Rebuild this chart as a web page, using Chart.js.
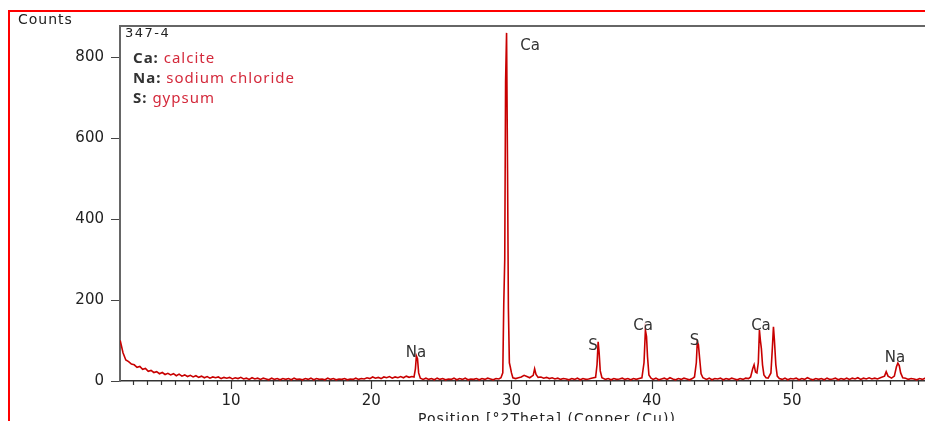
<!DOCTYPE html>
<html>
<head>
<meta charset="utf-8">
<script src="https://cdn.jsdelivr.net/npm/chart.js@4.4.1/dist/chart.umd.min.js"></script>
<style>
  html, body { margin: 0; padding: 0; background: #fff; overflow: hidden; }
  #frame { position: absolute; left: 8px; top: 10px; width: 2000px; height: 1000px; border: 2px solid #ff0000; box-sizing: border-box; }
  #xrd { position: absolute; left: 0; top: 0; }
</style>
</head>
<body>
<div id="frame"></div>
<canvas id="xrd" width="1000" height="440"></canvas>
<script>
// scan: background counts on a 0.2 deg step grid from 2.1 deg
var scanStart = 2.1;
var scanStep = 0.2;
var backgroundCounts = [
  100, 70, 52, 48, 42, 40, 34, 36, 29, 31,
  24, 26, 21, 23, 18, 21, 16, 19, 15, 18,
  13, 17, 12, 15, 11, 14, 10, 13, 9, 12,
  8, 11, 7, 10, 8, 10, 6, 9, 7, 9,
  5, 8, 6, 9, 5, 7, 4, 8, 5, 7,
  4, 7, 5, 3, 7, 4, 6, 3, 6, 4,
  6, 3, 7, 4, 5, 3, 6, 4, 7, 3,
  6, 4, 5, 3, 7, 4, 6, 3, 5, 4,
  6, 3, 5, 4, 7, 4, 6, 5, 8, 6,
  10, 7, 9, 6, 10, 8, 11, 7, 10, 8,
  11, 8, 12, 9, 11, 10, 10, 7, 4, 7,
  4, 6, 3, 7, 4, 6, 3, 5, 4, 7,
  3, 6, 4, 7, 3, 5, 4, 6, 3, 6,
  4, 7, 5, 3, 6, 5, 8, 8, 8, 8,
  8, 6, 8, 10, 14, 11, 8, 12, 14, 9,
  10, 7, 9, 6, 8, 5, 7, 4, 6, 5,
  3, 6, 4, 7, 3, 6, 4, 5, 7, 6,
  9, 9, 8, 4, 6, 3, 6, 4, 5, 7,
  4, 6, 3, 6, 4, 6, 8, 8, 8, 8,
  4, 7, 3, 5, 7, 4, 8, 5, 3, 6,
  4, 7, 5, 3, 6, 8, 8, 8, 8, 4,
  7, 3, 6, 5, 7, 3, 6, 4, 7, 5,
  3, 6, 4, 7, 6, 8, 8, 8, 8, 8,
  8, 7, 8, 8, 8, 6, 4, 7, 3, 6,
  5, 7, 3, 6, 4, 8, 5, 3, 6, 4,
  6, 3, 7, 4, 5, 7, 3, 6, 4, 7,
  4, 7, 5, 8, 4, 7, 5, 8, 5, 7,
  5, 8, 9, 12, 8, 7, 12, 8, 8, 8,
  7, 4, 6, 5, 3, 6, 4, 7, 5, 4,
  6, 3, 5, 7, 4, 6, 3, 5, 7, 4,
  6, 4, 5, 7, 5
];

// peak profiles, read point by point
var peakTheta = [
  23.05, 23.15, 23.22, 23.3, 23.38, 23.5,
  29.25, 29.38, 29.45, 29.52, 29.58, 29.65, 29.72, 29.78, 29.85, 29.92, 30.0, 30.1,
  31.55, 31.65, 31.75,
  36.0, 36.1, 36.18, 36.25, 36.33, 36.45,
  39.3, 39.45, 39.55, 39.63, 39.7, 39.8, 39.95,
  43.05, 43.18, 43.25, 43.33, 43.42, 43.52, 43.65,
  47.05, 47.2, 47.3, 47.4, 47.5, 47.6, 47.68, 47.75, 47.82, 47.9, 48.0, 48.15,
  48.5, 48.6, 48.68, 48.75, 48.85, 48.95, 49.1,
  56.6, 56.72, 56.85,
  57.3, 57.45, 57.55, 57.65, 57.75, 57.9
];
var peakCounts = [
  10, 30, 62, 55, 20, 7,
  8, 20, 190, 300, 740, 860, 520, 180, 45, 34, 20, 8,
  14, 30, 16,
  9, 40, 97, 70, 25, 8,
  8, 45, 126, 110, 60, 15, 7,
  10, 45, 97, 90, 55, 18, 8,
  10, 30, 40, 22, 20, 45, 126, 100, 80, 40, 15, 8,
  20, 80, 134, 100, 40, 12, 6,
  12, 23, 12,
  12, 35, 44, 38, 20, 8
];

// phase labels (text, 2theta, counts at label baseline)
var labelText = ['Na', 'Ca', 'S', 'Ca', 'S', 'Ca', 'Na'];
var labelTheta = [23.19, 31.32, 35.81, 39.38, 43.05, 47.79, 57.34];
var labelCounts = [59, 817, 76, 126, 89, 126, 47];

var phaseCodes = ['Ca:', 'Na:', 'S:'];
var phaseNames = ['calcite', 'sodium chloride', 'gypsum'];
var sampleName = '347-4';

var xTicks = [10, 20, 30, 40, 50];
var yTicks = [0, 200, 400, 600, 800];
var xTitle = 'Position [°2Theta] (Copper (Cu))';
var yTitle = 'Counts';

// merge background grid with peak points
var points = [];
for (var i = 0; i < backgroundCounts.length; i++) {
  var t = Math.round((scanStart + i * scanStep) * 100) / 100;
  var inPeak = peakTheta.some(function (p) { return Math.abs(p - t) < 0.12; });
  if (!inPeak) points.push({ x: t, y: backgroundCounts[i] });
}
for (var j = 0; j < peakTheta.length; j++) points.push({ x: peakTheta[j], y: peakCounts[j] });
points.sort(function (a, b) { return a.x - b.x; });

var decor = {
  id: 'decor',
  afterDraw: function (chart) {
    var c = chart.ctx, a = chart.chartArea;
    var xs = chart.scales.x, ys = chart.scales.y;
    c.save();
    // top frame
    c.strokeStyle = '#666';
    c.lineWidth = 2;
    c.beginPath();
    c.moveTo(a.left - 1, a.top);
    c.lineTo(a.right, a.top);
    c.stroke();
    // x ticks every degree, longer every ten
    c.strokeStyle = '#333';
    c.lineWidth = 1.2;
    for (var v = 3; v <= 62; v++) {
      var px = Math.round(xs.getPixelForValue(v)) + 0.5;
      c.beginPath();
      c.moveTo(px, a.bottom);
      c.lineTo(px, a.bottom + (v % 10 === 0 ? 8 : 4));
      c.stroke();
    }
    c.fillStyle = '#222';
    c.textBaseline = 'alphabetic';
    // x axis title
    c.font = '14px "DejaVu Sans"';
    c.letterSpacing = '1px';
    c.textAlign = 'center';
    c.fillText(xTitle, (a.left + a.right) / 2, a.bottom + 42);
    // counts label
    c.textAlign = 'left';
    c.fillText(yTitle, a.left - 102, a.top - 2);
    // sample name
    c.font = '13px "DejaVu Sans"';
    c.letterSpacing = '1.5px';
    c.fillText(sampleName, a.left + 5, a.top + 11);
    // phase legend
    c.letterSpacing = '1px';
    for (var k = 0; k < phaseCodes.length; k++) {
      var by = a.top + 37 + k * 20;
      c.font = 'bold 15px "Noto Sans"';
      c.fillStyle = '#333';
      c.fillText(phaseCodes[k], a.left + 13, by);
      var w = c.measureText(phaseCodes[k] + ' ').width;
      c.font = '15px "Noto Sans"';
      c.fillStyle = '#d42a3c';
      c.fillText(phaseNames[k], a.left + 13 + w, by);
    }
    // peak labels
    c.letterSpacing = '0px';
    c.font = '15px "DejaVu Sans"';
    c.fillStyle = '#333';
    c.textAlign = 'center';
    for (var m = 0; m < labelText.length; m++) {
      c.fillText(labelText[m], xs.getPixelForValue(labelTheta[m]), ys.getPixelForValue(labelCounts[m]));
    }
    c.restore();
  }
};

var ctx = document.getElementById('xrd').getContext('2d');
var xrdChart = new Chart(ctx, {
  type: 'line',
  data: {
    datasets: [{
      data: points,
      borderColor: '#c80000',
      borderWidth: 1.6,
      pointRadius: 0,
      tension: 0
    }]
  },
  options: {
    responsive: false,
    animation: false,
    layout: { padding: { top: 26, right: 26, left: 0, bottom: 0 } },
    plugins: { legend: { display: false }, tooltip: { enabled: false } },
    scales: {
      x: {
        type: 'linear',
        min: 2.086,
        max: 62.98,
        afterBuildTicks: function (s) { s.ticks = xTicks.map(function (v) { return { value: v }; }); },
        afterFit: function (s) { s.height = 59; },
        grid: { drawOnChartArea: false, drawTicks: false },
        border: { color: '#333', width: 1.5 },
        ticks: { padding: 11, color: '#222', maxRotation: 0, font: { family: 'DejaVu Sans', size: 15 } }
      },
      y: {
        min: 0,
        max: 877,
        afterBuildTicks: function (s) { s.ticks = yTicks.map(function (v) { return { value: v }; }); },
        afterFit: function (s) { s.width = 120; },
        grid: { drawOnChartArea: false, tickLength: 9, color: '#444' },
        border: { color: '#666', width: 2 },
        ticks: { padding: 7, color: '#222', font: { family: 'DejaVu Sans', size: 15 } }
      }
    }
  },
  plugins: [decor]
});
</script>
</body>
</html>
